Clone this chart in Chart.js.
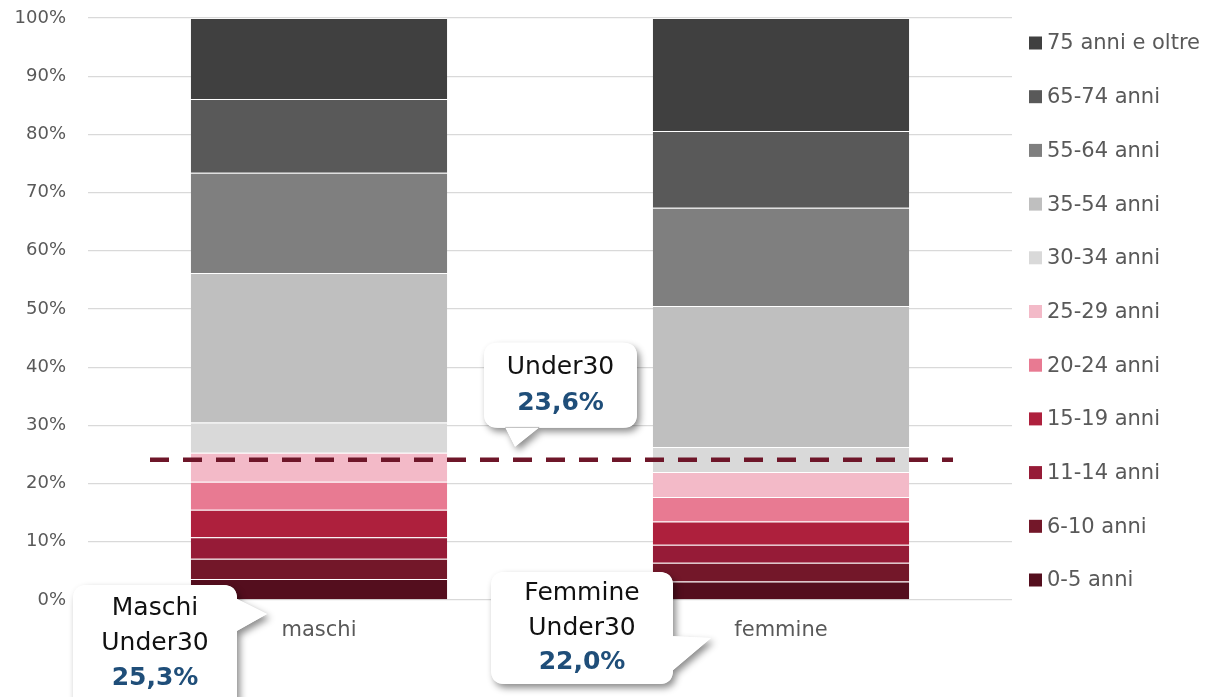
<!DOCTYPE html>
<html>
<head>
<meta charset="utf-8">
<script src="https://cdn.jsdelivr.net/npm/chart.js@4/dist/chart.umd.min.js"></script>
<style>
  html, body { margin: 0; padding: 0; background: #ffffff; }
  #wrap { width: 1219px; height: 697px; position: relative; }
</style>
</head>
<body>
<div id="wrap"><canvas id="c" width="1219" height="697"></canvas></div>
<script>
// ---- data ----
const categories = ['maschi', 'femmine'];
const ageGroups = ['0-5 anni', '6-10 anni', '11-14 anni', '15-19 anni', '20-24 anni', '25-29 anni',
                   '30-34 anni', '35-54 anni', '55-64 anni', '65-74 anni', '75 anni e oltre'];
const maschiValues  = [3.6, 3.5, 3.7, 4.7, 4.8, 5.0, 5.2, 25.7, 17.2, 12.7, 13.9];
const femmineValues = [3.2, 3.2, 3.1, 4.0, 4.2, 4.3, 4.3, 24.2, 16.9, 13.2, 19.4];
const groupColors = ['#540E1E', '#731729', '#961B37', '#AE203D', '#E87A92', '#F3BAC8',
                     '#D9D9D9', '#BFBFBF', '#7F7F7F', '#595959', '#404040'];
const yTicks = [0, 10, 20, 30, 40, 50, 60, 70, 80, 90, 100];
const under30Line = 24.1;
const calloutUnder30 = ['Under30', '23,6%'];
const calloutMaschi = ['Maschi', 'Under30', '25,3%'];
const calloutFemmine = ['Femmine', 'Under30', '22,0%'];

const FONT = "'DejaVu Sans', sans-serif";

const datasets = ageGroups.map((g, i) => ({
  label: g,
  data: [maschiValues[i], femmineValues[i]],
  backgroundColor: groupColors[i],
  borderColor: 'rgba(255,255,255,0.18)',
  borderWidth: {top: 1, bottom: 0, left: 0, right: 0},
  borderSkipped: false,
  barPercentage: 0.555,
  categoryPercentage: 1.0
}));

function roundRectPath(ctx, x, y, w, h, r) {
  ctx.moveTo(x + r, y);
  ctx.lineTo(x + w - r, y);
  ctx.quadraticCurveTo(x + w, y, x + w, y + r);
  ctx.lineTo(x + w, y + h - r);
  ctx.quadraticCurveTo(x + w, y + h, x + w - r, y + h);
  ctx.lineTo(x + r, y + h);
  ctx.quadraticCurveTo(x, y + h, x, y + h - r);
  ctx.lineTo(x, y + r);
  ctx.quadraticCurveTo(x, y, x + r, y);
  ctx.closePath();
}

function calloutPath(ctx, box, tail) {
  ctx.beginPath();
  roundRectPath(ctx, box.x, box.y, box.w, box.h, 14);
  ctx.moveTo(tail[0][0], tail[0][1]);
  ctx.lineTo(tail[1][0], tail[1][1]);
  ctx.lineTo(tail[2][0], tail[2][1]);
  ctx.closePath();
}

function drawCallout(ctx, box, tail, lines, lineY) {
  ctx.save();
  calloutPath(ctx, box, tail);
  ctx.shadowColor = 'rgba(0,0,0,0.45)';
  ctx.shadowBlur = 7;
  ctx.shadowOffsetX = 3;
  ctx.shadowOffsetY = 4;
  ctx.fillStyle = '#ffffff';
  ctx.fill('nonzero');
  ctx.restore();
  ctx.save();
  calloutPath(ctx, box, tail);
  ctx.fillStyle = '#ffffff';
  ctx.fill('nonzero');
  ctx.textAlign = 'center';
  ctx.textBaseline = 'middle';
  const cx = box.x + box.w / 2;
  lines.forEach((t, i) => {
    const last = i === lines.length - 1;
    ctx.font = (last ? 'bold ' : '') + '25px ' + FONT;
    ctx.fillStyle = last ? '#1F4E79' : '#111111';
    ctx.fillText(t, cx, lineY[i]);
  });
  ctx.restore();
}

const overlayPlugin = {
  id: 'overlay',
  afterDatasetsDraw(chart) {
    const ctx = chart.ctx;
    const xs = chart.scales.x, ys = chart.scales.y;
    const x0 = xs.getPixelForValue(0), x1 = xs.getPixelForValue(1);
    const yl = ys.getPixelForValue(under30Line);
    ctx.save();
    ctx.strokeStyle = '#6E1629';
    ctx.lineWidth = 4.5;
    ctx.setLineDash([19, 14]);
    ctx.beginPath();
    ctx.moveTo(x0 - 169, yl);
    ctx.lineTo(x1 + 172, yl);
    ctx.stroke();
    ctx.restore();
  },
  afterDraw(chart) {
    const ctx = chart.ctx;
    const xs = chart.scales.x, ys = chart.scales.y;
    const x0 = xs.getPixelForValue(0), x1 = xs.getPixelForValue(1);
    const mid = (x0 + x1) / 2;
    const yl = ys.getPixelForValue(under30Line);
    const yb = chart.chartArea.bottom;
    drawCallout(ctx,
      {x: mid - 66, y: yl - 117, w: 153, h: 85},
      [[mid - 45, yl - 33], [mid - 35, yl - 13], [mid - 10, yl - 33]],
      calloutUnder30, [yl - 92, yl - 56]);
    drawCallout(ctx,
      {x: x0 - 246, y: yb - 15, w: 164, h: 130},
      [[x0 - 84, yb - 2], [x0 - 52, yb + 14], [x0 - 84, yb + 32]],
      calloutMaschi, [yb + 8, yb + 43, yb + 78]);
    drawCallout(ctx,
      {x: x1 - 290, y: yb - 28, w: 182, h: 112},
      [[x1 - 112, yb + 36], [x1 - 70, yb + 38], [x1 - 122, yb + 82]],
      calloutFemmine, [yb - 7, yb + 28, yb + 62]);

    const area = chart.chartArea;
    const lx = area.right + 17;
    ctx.save();
    ctx.font = '21px ' + FONT;
    ctx.textBaseline = 'middle';
    ctx.textAlign = 'left';
    const n = chart.data.datasets.length;
    for (let k = 0; k < n; k++) {
      const ds = chart.data.datasets[n - 1 - k];
      const cy = area.top + 25 + k * 53.7;
      ctx.fillStyle = ds.backgroundColor;
      ctx.fillRect(lx, cy - 6.5, 13, 13);
      ctx.fillStyle = '#595959';
      ctx.fillText(ds.label, lx + 18, cy + 1);
    }
    ctx.restore();
  }
};

new Chart(document.getElementById('c'), {
  type: 'bar',
  data: { labels: categories, datasets: datasets },
  options: {
    responsive: false,
    animation: false,
    devicePixelRatio: 1,
    layout: { padding: { left: 0, right: 207, top: 18, bottom: 0 } },
    plugins: {
      legend: { display: false },
      tooltip: { enabled: false }
    },
    scales: {
      x: {
        stacked: true,
        grid: { display: false, drawTicks: false },
        border: { display: false },
        ticks: { color: '#595959', font: { family: FONT, size: 21 }, padding: 18 },
        afterFit(scale) { scale.height = 97; scale.paddingLeft = 0; scale.paddingRight = 0; }
      },
      y: {
        stacked: true,
        min: 0, max: 100,
        afterBuildTicks(scale) { scale.ticks = yTicks.map(v => ({ value: v })); },
        grid: { color: '#D9D9D9', lineWidth: 1.3, drawTicks: false },
        border: { display: false },
        ticks: { color: '#595959', font: { family: FONT, size: 18 }, padding: 22,
                 callback: v => v + '%' },
        afterFit(scale) { scale.width = 88; scale.paddingTop = 0; scale.paddingBottom = 0; }
      }
    }
  },
  plugins: [overlayPlugin]
});
</script>
</body>
</html>
